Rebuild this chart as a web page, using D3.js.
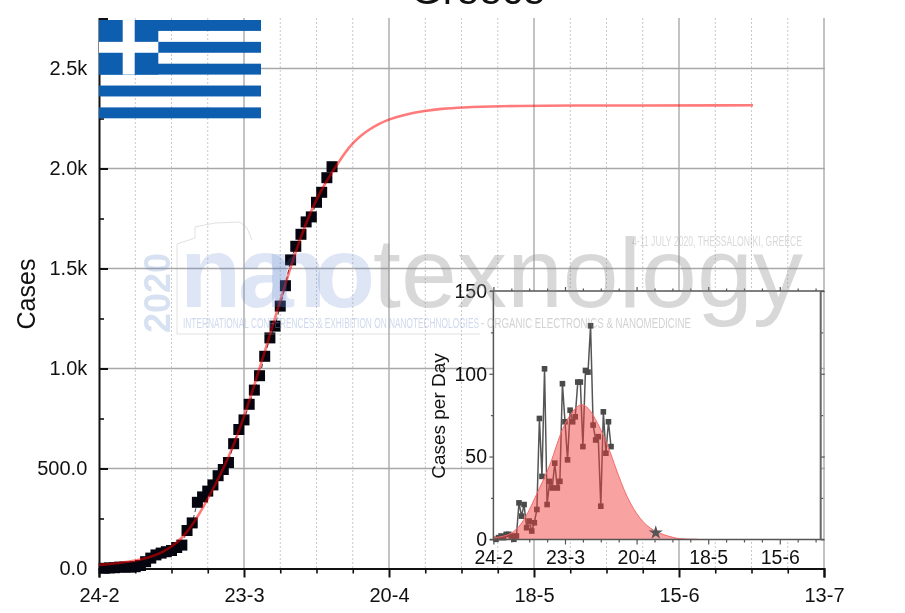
<!DOCTYPE html>
<html><head><meta charset="utf-8">
<script src="https://cdn.jsdelivr.net/npm/d3@7/dist/d3.min.js"></script>
<style>html,body{margin:0;padding:0;background:#fff}svg{display:block;filter:blur(0.35px)}text{font-family:"Liberation Sans",Arial,sans-serif}</style>
</head><body><svg id="c" width="905" height="613"></svg>
<script>
// ---- data ----
const title = "Greece";
const mainXLabels = ["24-2","23-3","20-4","18-5","15-6","13-7"];
const insetXLabels = ["24-2","23-3","20-4","18-5","15-6"];
const mainYTicks = [0,500,1000,1500,2000,2500];
const mainYLabels = ["0.0","500.0","1.0k","1.5k","2.0k","2.5k"];
const insetYTicks = [0,50,100,150];
const caseDays = d3.range(1,46);
const cases = [1,3,4,7,7,7,9,15,34,52,68,77,84,90,105,117,190,228,331,358,387,418,464,495,530,624,695,743,821,892,964,1061,1153,1212,1312,1414,1543,1611,1671,1733,1758,1831,1881,1954,2009];
const fitDays = [0,4,7,10,12,14,16,18,20,22,25,28,33,38,42,45.9,47.5,49.1,50.7,52.3,54,55.8,59.4,62.9,66.2,69.7,77.4,87,126.3];
const fitCases = [18,27,38,58,78,108,150,215,300,395,550,750,1165,1600,1860,2017,2080,2130,2168,2197,2222,2245,2272,2289,2299,2305,2312,2315,2316];
const dailyDays = d3.range(1,47);
const daily = [0,1,2,1,3,3,2,0,2,22,14,21,7,11,5,10,18,73,38,103,21,35,31,46,31,35,94,71,48,78,71,74,95,95,56,102,101,129,69,60,62,20,77,52,71,56];
const dailyFitDays = [0,4,7.7,12.4,17,21.8,24.1,26.5,28.7,31.6,35,39,43,45.4,47.6,52.2,57.4,62.6,70.3,73,80];
const dailyFit = [0.8,1.8,3.6,11.7,27.8,43,54,65,72,79,83,76,63,54,44,24.8,11.7,4.6,1,0.2,0];
const todayDay = [63.5]; const todayValue = [4];

const svg = d3.select("#c");
const x = d3.scaleLinear([0,140],[99,824]);
const y = d3.scaleLinear([0,2750],[568.5,18.5]);
const ix = d3.scaleLinear([0,128],[493.4,820.7]);
const iy = d3.scaleLinear([0,150],[539.3,291]);
const majorX = d3.range(0,141,28), minorX = d3.range(0,141,7).filter(d=>d%28);
const insetMajorX = d3.range(0,113,28), insetMinorX = d3.range(0,128,7).filter(d=>d%28);

// grid
const g = svg.append("g");
g.selectAll(".m").data(minorX).join("line").attr("x1",x).attr("x2",x).attr("y1",18).attr("y2",568)
 .attr("stroke","#c8c8c8").attr("stroke-width",1).attr("stroke-dasharray","2 2");
g.selectAll(".M").data(majorX.slice(1)).join("line").attr("x1",x).attr("x2",x).attr("y1",18).attr("y2",568)
 .attr("stroke","#aaa").attr("stroke-width",1.4);
g.selectAll(".h").data(mainYTicks.slice(1)).join("line").attr("x1",99).attr("x2",825).attr("y1",y).attr("y2",y)
 .attr("stroke","#a8a8a8").attr("stroke-width",1.4);

// main axes
const ax = svg.append("g").attr("transform","translate(0,568.5)").call(d3.axisBottom(x).tickValues(majorX).tickFormat((d,i)=>mainXLabels[i]).tickSize(9).tickPadding(10.3));
ax.select(".domain").attr("stroke","#111").attr("stroke-width",2);
ax.selectAll("line").attr("stroke","#111").attr("stroke-width",2);
ax.selectAll("text").attr("font-size",20).attr("fill","#111");
svg.append("g").attr("transform","translate(0,568.5)").call(d3.axisBottom(x).tickValues(minorX).tickFormat("").tickSize(5))
 .call(s=>{s.select(".domain").remove();s.selectAll("line").attr("stroke","#111").attr("stroke-width",1.6)});
const ay = svg.append("g").attr("transform","translate(99,0)").call(d3.axisLeft(y).tickValues(mainYTicks).tickFormat((d,i)=>mainYLabels[i]).tickSize(-9).tickPadding(11.7));
ay.select(".domain").attr("stroke","#111").attr("stroke-width",2);
ay.selectAll("line").attr("stroke","#111").attr("stroke-width",2);
ay.selectAll("text").attr("font-size",20).attr("fill","#111");
svg.append("g").attr("transform","translate(99,0)").call(d3.axisLeft(y).tickValues(d3.range(250,2751,500)).tickFormat("").tickSize(-5))
 .call(s=>{s.select(".domain").remove();s.selectAll("line").attr("stroke","#111").attr("stroke-width",1.6)});

// main data
svg.append("path").attr("d",d3.line().x((d,i)=>x(caseDays[i])).y(d=>y(d))(cases)).attr("fill","none").attr("stroke","#111").attr("stroke-width",.8).attr("stroke-dasharray","4 3");
svg.selectAll(".sq").data(cases).join("rect").attr("x",(d,i)=>x(caseDays[i])-5.5).attr("y",d=>y(d)-5.5).attr("width",11).attr("height",11).attr("fill","#05050f");
svg.append("path").attr("d",d3.line().x((d,i)=>x(fitDays[i])).y(d=>y(d)).curve(d3.curveBasis)(fitCases)).attr("fill","none").attr("stroke","#f00").attr("stroke-opacity",.52).attr("stroke-width",2.6);

// flag
const flag = svg.append("g");
const band = 98.3/9, fx0=99, fx1=261, fy0=20;
d3.range(0,9,2).forEach(i=>flag.append("rect").attr("x",fx0).attr("y",fy0+i*band).attr("width",fx1-fx0).attr("height",band).attr("fill","#0d5eaf"));
flag.append("rect").attr("x",fx0).attr("y",fy0).attr("width",59.3).attr("height",band*5).attr("fill","#0d5eaf");
flag.append("rect").attr("x",fx0+23.7).attr("y",fy0).attr("width",12).attr("height",band*5).attr("fill","#fff");
flag.append("rect").attr("x",fx0).attr("y",fy0+band*2).attr("width",59.3).attr("height",band).attr("fill","#fff");

// title & y title
svg.append("text").attr("x",478).attr("y",4).attr("text-anchor","middle").attr("font-size",41).attr("fill","#111").text(title);
svg.append("text").attr("transform","translate(35,294) rotate(-90)").attr("text-anchor","middle").attr("font-size",25).attr("fill","#111").text("Cases");

// inset
const ins = svg.append("g");
ins.append("rect").attr("x",ix(0)).attr("y",291).attr("width",ix(128)-ix(0)).attr("height",248.3).attr("fill","#fff");
ins.append("path").attr("d",d3.line().x((d,i)=>ix(dailyDays[i])).y(d=>iy(d))(daily)).attr("fill","none").attr("stroke","#555").attr("stroke-width",1.5);
ins.selectAll(".p").data(daily).join("rect").attr("x",(d,i)=>ix(dailyDays[i])-2.8).attr("y",d=>iy(d)-2.8).attr("width",5.6).attr("height",5.6).attr("fill","#4a4a4a");
ins.append("path").attr("d",d3.area().x((d,i)=>ix(dailyFitDays[i])).y0(iy(0)).y1(d=>iy(d)).curve(d3.curveBasis)(dailyFit)).attr("fill","#f03c3c").attr("fill-opacity",.48);
ins.append("path").attr("d",d3.line().x((d,i)=>ix(dailyFitDays[i])).y(d=>iy(d)).curve(d3.curveBasis)(dailyFit)).attr("fill","none").attr("stroke","#f56a6a").attr("stroke-width",1);
ins.selectAll(".s").data(todayValue).join("path").attr("d",d3.symbol(d3.symbolStar,62)).attr("transform",(d,i)=>`translate(${ix(todayDay[i])},${iy(d)})`).attr("fill","#555");

const col="#555";
const style=s=>{s.selectAll("line").attr("stroke",col).attr("stroke-width",1.2);s.select(".domain").remove();s.selectAll("text").attr("fill","#111")};
// inset ticks
const ib = ins.append("g").attr("transform","translate(0,539.5)").call(d3.axisBottom(ix).tickValues(insetMajorX).tickFormat((d,i)=>insetXLabels[i]).tickSize(5).tickPadding(5.5)).call(style);
ib.selectAll("text").attr("font-size",19.5);
ins.append("g").attr("transform","translate(0,539.5)").call(d3.axisBottom(ix).tickValues(insetMinorX).tickFormat("").tickSize(3)).call(style);
ins.append("g").attr("transform","translate(0,291)").call(d3.axisTop(ix).tickValues(insetMajorX).tickFormat("").tickSize(4)).call(style);
ins.append("g").attr("transform","translate(0,291)").call(d3.axisTop(ix).tickValues(insetMinorX).tickFormat("").tickSize(2.5)).call(style);
const il = ins.append("g").attr("transform","translate(493.4,0)").call(d3.axisLeft(iy).tickValues(insetYTicks).tickFormat(d3.format("d")).tickSize(4).tickPadding(2.4)).call(style);
il.selectAll("text").attr("font-size",19.5);
ins.append("g").attr("transform","translate(493.4,0)").call(d3.axisLeft(iy).tickValues([25,75,125]).tickFormat("").tickSize(2.5)).call(style);
ins.append("g").attr("transform","translate(820.7,0)").call(d3.axisRight(iy).tickValues(insetYTicks).tickFormat("").tickSize(4)).call(style);
ins.append("g").attr("transform","translate(820.7,0)").call(d3.axisRight(iy).tickValues([25,75,125]).tickFormat("").tickSize(2.5)).call(style);
ins.append("line").attr("x1",490).attr("x2",824).attr("y1",291).attr("y2",291).attr("stroke",col).attr("stroke-width",1.5);
ins.append("line").attr("x1",490).attr("x2",824).attr("y1",539.5).attr("y2",539.5).attr("stroke",col).attr("stroke-width",1.5);
ins.append("line").attr("x1",493.4).attr("x2",493.4).attr("y1",291).attr("y2",540).attr("stroke",col).attr("stroke-width",1.5);
ins.append("line").attr("x1",820.7).attr("x2",820.7).attr("y1",291).attr("y2",540).attr("stroke","#666").attr("stroke-width",2);
svg.append("text").attr("transform","translate(445,416) rotate(-90)").attr("text-anchor","middle").attr("font-size",19).attr("fill","#111").text("Cases per Day");

// watermark
const wm = svg.append("g").style("pointer-events","none");
const bigFont = '"Open Sans","Noto Sans",sans-serif';
[["n",180],["a",238],["n",265],["o",314]].forEach(([ch,px])=>{
  wm.append("text").attr("x",px).attr("y",307).attr("font-family",bigFont).attr("font-weight",600).attr("font-size",100).attr("fill","#5a7fc8").attr("fill-opacity",.2).text(ch);
});
wm.append("text").attr("x",373).attr("y",307).attr("font-family",bigFont).attr("font-weight",300).attr("font-size",98).attr("fill","#888").attr("fill-opacity",.33).attr("textLength",430).attr("lengthAdjust","spacingAndGlyphs").text("texnology");
wm.append("text").attr("transform","translate(170,333) rotate(-90)").attr("font-size",36).attr("font-weight",700).attr("font-family",bigFont).attr("fill","#6d8fd0").attr("fill-opacity",.27).attr("textLength",80).attr("lengthAdjust","spacingAndGlyphs").text("2020");
wm.append("text").attr("x",183).attr("y",328).attr("font-size",15).attr("fill","#7d9bd0").attr("fill-opacity",.38).attr("textLength",296).attr("lengthAdjust","spacingAndGlyphs").text("INTERNATIONAL CONFERENCES & EXHIBITION ON NANOTECHNOLOGIES");
wm.append("text").attr("x",481).attr("y",328).attr("font-size",15).attr("fill","#888").attr("fill-opacity",.38).attr("textLength",210).attr("lengthAdjust","spacingAndGlyphs").text("- ORGANIC ELECTRONICS & NANOMEDICINE");
wm.append("text").attr("x",632).attr("y",246).attr("font-size",15).attr("fill","#888").attr("fill-opacity",.32).attr("textLength",170).attr("lengthAdjust","spacingAndGlyphs").text("4-11 JULY 2020, THESSALONIKI, GREECE");
wm.append("path").attr("d","M177 334V244L195 238V227L215 223L240 222L247 228L252 240M177 334H480").attr("fill","none").attr("stroke","#aaa").attr("stroke-opacity",.35).attr("stroke-width",1);
</script></body></html>
